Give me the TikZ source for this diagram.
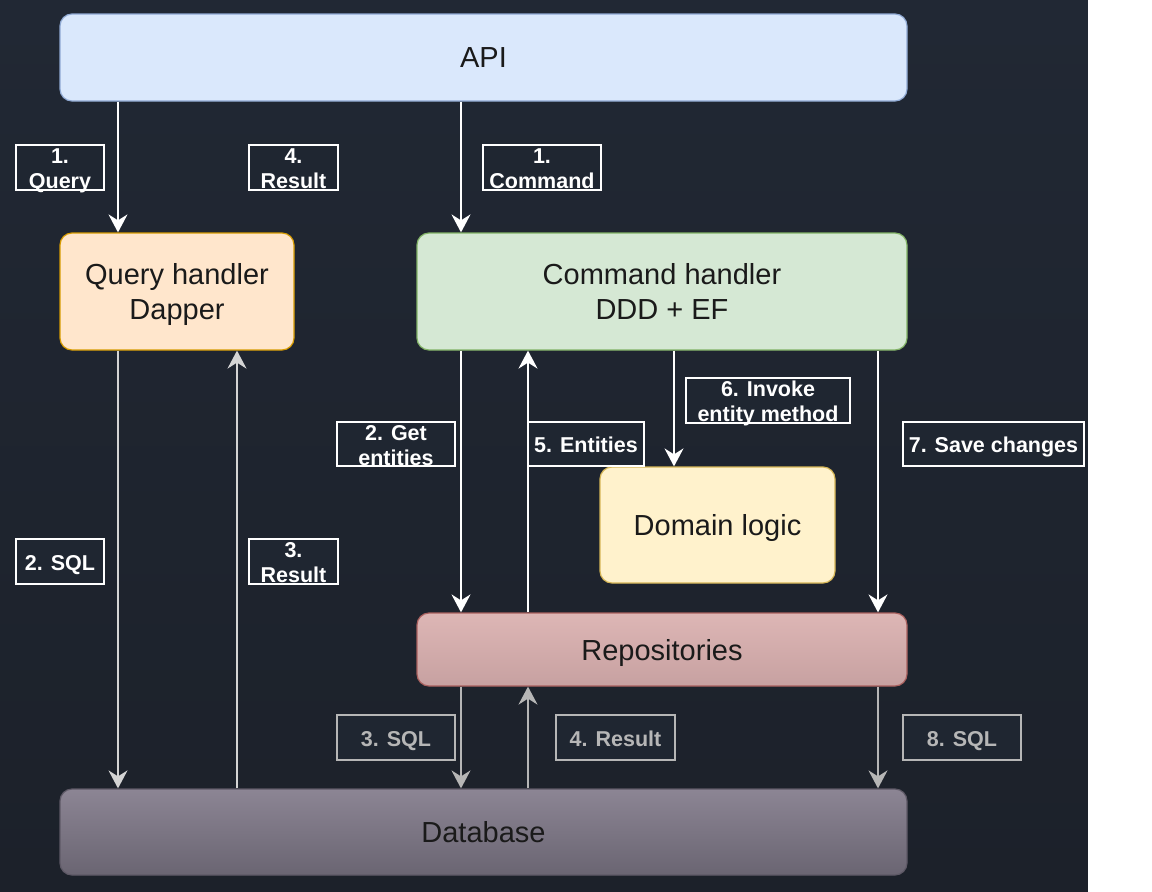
\documentclass[tikz,border=0pt]{standalone}
\usepackage{fontspec}
\setmainfont{Liberation Sans}
\usetikzlibrary{arrows.meta}

\definecolor{bgtop}{HTML}{212834}
\definecolor{bgbot}{HTML}{1C212A}
\definecolor{bg}{HTML}{1F2631}
\definecolor{apifill}{HTML}{DAE8FC}
\definecolor{apiline}{HTML}{8FA9D3}
\definecolor{qfill}{HTML}{FFE6CC}
\definecolor{qline}{HTML}{D79B00}
\definecolor{cfill}{HTML}{D5E8D4}
\definecolor{cline}{HTML}{82B366}
\definecolor{dfill}{HTML}{FFF2CC}
\definecolor{dline}{HTML}{D6B656}
\definecolor{rtop}{HTML}{DDB6B5}
\definecolor{rbot}{HTML}{C7A1A1}
\definecolor{rline}{HTML}{A9605E}
\definecolor{dbtop}{HTML}{8C8594}
\definecolor{dbbot}{HTML}{6A6572}
\definecolor{dbline}{HTML}{5E5966}
\definecolor{ink}{HTML}{1A1A1A}
\definecolor{midgray}{HTML}{D4D4D4}
\definecolor{dimgray}{HTML}{B6B6B6}

% two centred lines whose baseline is the first line
\newcommand\twol[2]{\begin{tabular}[t]{@{}c@{}}#1\\#2\end{tabular}}

\begin{document}
\begin{tikzpicture}[x=1pt,y=-1pt,
  box/.style={draw, rounded corners=12pt, line width=1.2pt, align=center,
    font=\fontsize{29}{35}\selectfont, text=ink, inner sep=0pt, text depth=0pt},
  arr/.style={draw=white, line width=2pt,
    -{Stealth[length=18pt,width=19pt,inset=6pt]}},
  midarr/.style={arr, draw=midgray},
  dimarr/.style={arr, draw=dimgray},
  tag/.style={draw=white, line width=2.4pt, fill=bg, text=white,
    font=\bfseries\fontsize{21.5}{25}\selectfont, inner sep=0pt,
    minimum height=45pt, text height=17pt, text depth=0pt},
  dimtag/.style={tag, draw=dimgray, text=dimgray},
  tagtxt/.style={text=white, font=\bfseries\fontsize{21.5}{25}\selectfont,
    inner sep=0pt, anchor=base}
]
\useasboundingbox (0,0) rectangle (1152,892);
\shade[top color=bgtop, bottom color=bgbot] (0,0) rectangle (1088,892);
\fill[white] (1088,0) rectangle (1152,892);

% main blocks
\node[box, fill=apifill, draw=apiline, minimum width=847pt, minimum height=87pt]
  (api) at (483.5,57.5) {API};
\node[box, fill=qfill, draw=qline, minimum width=234pt, minimum height=117pt]
  (qh) at (177,291.5) {Query handler\\Dapper};
\node[box, fill=cfill, draw=cline, minimum width=490pt, minimum height=117pt]
  (ch) at (662,291.5) {Command handler\\DDD + EF};
\node[box, fill=dfill, draw=dline, minimum width=235pt, minimum height=116pt]
  (dl) at (717.5,525) {Domain logic};
\node[box, top color=rtop, bottom color=rbot, draw=rline, minimum width=490pt,
  minimum height=73pt] (rep) at (662,649.5) {Repositories};
\node[box, top color=dbtop, bottom color=dbbot, draw=dbline, minimum width=847pt,
  minimum height=86pt] (db) at (483.5,832) {Database};

% connector columns
\coordinate (c1) at (118,0);
\coordinate (c2) at (237,0);
\coordinate (c3) at (461,0);
\coordinate (c4) at (528,0);
\coordinate (c5) at (674,0);
\coordinate (c6) at (878,0);

% connectors
\draw[arr] (api.south -| c1) -- (qh.north -| c1);
\draw[arr] (api.south -| c3) -- (ch.north -| c3);
\draw[midarr] (qh.south -| c1) -- (db.north -| c1);
\draw[midarr] (db.north -| c2) -- (qh.south -| c2);
\draw[arr] (ch.south -| c3) -- (rep.north -| c3);
\draw[arr] (rep.north -| c4) -- (ch.south -| c4);
\draw[arr] (ch.south -| c5) -- (dl.north -| c5);
\draw[arr] (ch.south -| c6) -- (rep.north -| c6);
\draw[dimarr] (rep.south -| c3) -- (db.north -| c3);
\draw[dimarr] (db.north -| c4) -- (rep.south -| c4);
\draw[dimarr] (rep.south -| c6) -- (db.north -| c6);

% step labels
\node[tag, minimum width=88pt] (tq1) at (60,167.5) {};
\node[tagtxt] (tq1t) at (60,163.5) {\twol{1.}{Query}};
\node[tag, minimum width=89pt] (tr4) at (293.5,167.5) {};
\node[tagtxt] (tr4t) at (293.5,163.5) {\twol{4.}{Result}};
\node[tag, minimum width=118pt] (tc1) at (542,167.5) {};
\node[tagtxt] (tc1t) at (542,163.5) {\twol{1.}{Command}};
\node[tag, minimum width=164pt] (tiv) at (768,400.5) {};
\node[tagtxt] (tivt) at (768,396) {\twol{6. Invoke}{entity method}};
\node[tag, minimum width=118pt, minimum height=44pt] (tge) at (396,444) {};
\node[tagtxt] (tget) at (396,440.5) {\twol{2. Get}{entities}};
\node[tag, minimum width=116pt, minimum height=44pt] (ten) at (586,444) {5. Entities};
\node[tag, minimum width=181pt, minimum height=44pt] (tsc) at (993.5,444) {7. Save changes};
\node[tag, minimum width=88pt] (ts2) at (60,561.5) {2. SQL};
\node[tag, minimum width=89pt] (tr3) at (293.5,561.5) {};
\node[tagtxt] (tr3t) at (293.5,557.5) {\twol{3.}{Result}};
\node[dimtag, minimum width=118pt] (ts3) at (396,737.5) {3. SQL};
\node[dimtag, minimum width=119pt] (tr4b) at (615.5,737.5) {4. Result};
\node[dimtag, minimum width=118pt] (ts8) at (962,737.5) {8. SQL};
\end{tikzpicture}
\end{document}
